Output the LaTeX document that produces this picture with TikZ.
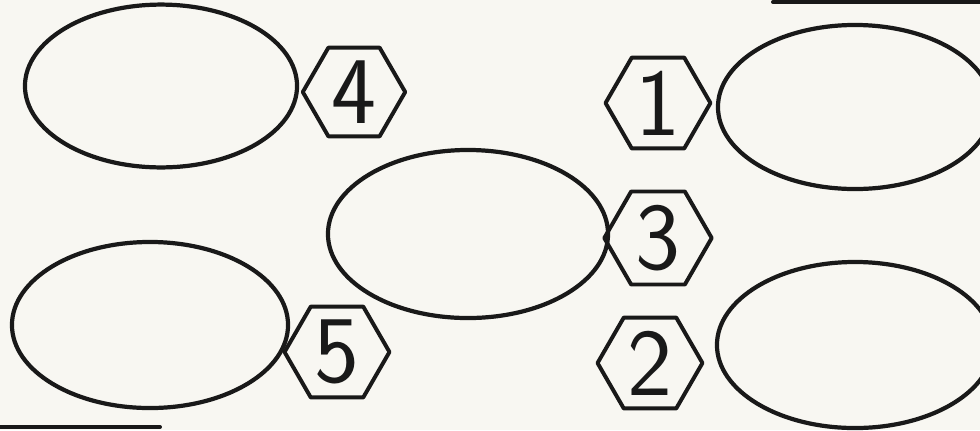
\documentclass[tikz,border=0pt]{standalone}
\usepackage{tikz}
\usetikzlibrary{shapes.geometric}

\definecolor{paper}{RGB}{248,247,242}
\definecolor{ink}{RGB}{25,25,25}

\tikzset{
  oval/.style={draw=ink,ellipse,line width=3pt,inner sep=0pt},
  hexa/.style={draw=ink,regular polygon,regular polygon sides=6,minimum size=2.55cm,
    line width=2.8pt,inner sep=0pt,text=ink,font=\sffamily\fontsize{68}{68}\selectfont}
}

\begin{document}
\begin{tikzpicture}[line cap=round,line join=round,x=0.025cm,y=-0.025cm]
\useasboundingbox (0,0) rectangle (980,430);
\fill[paper] (0,0) rectangle (980,430);
\clip (0,0) rectangle (980,430);
% ovals
\node [oval,minimum width=6.8cm,minimum height=4.07cm] (ovalA) at (161,86) {};
\node [oval,minimum width=6.85cm,minimum height=4.1cm] (ovalB) at (855,107) {};
\node [oval,minimum width=7.0cm,minimum height=4.2cm] (ovalC) at (468,234) {};
\node [oval,minimum width=6.9cm,minimum height=4.15cm] (ovalD) at (150,325) {};
\node [oval,minimum width=6.9cm,minimum height=4.15cm] (ovalE) at (855,345) {};
% numbers
\node [hexa] (hexA) at (354,92) {4};
\node [hexa] (hexB) at (658,103) {1};
\node [hexa] (hexC) at (658,238) {3};
\node [hexa] (hexD) at (337,352) {5};
\node [hexa] (hexE) at (650,363) {2};
% page edges
\draw [line width=2.8pt,ink] (773,2) -- (980,2);
\draw [line width=2.8pt,ink] (0,427) -- (160,427);
\end{tikzpicture}
\end{document}
